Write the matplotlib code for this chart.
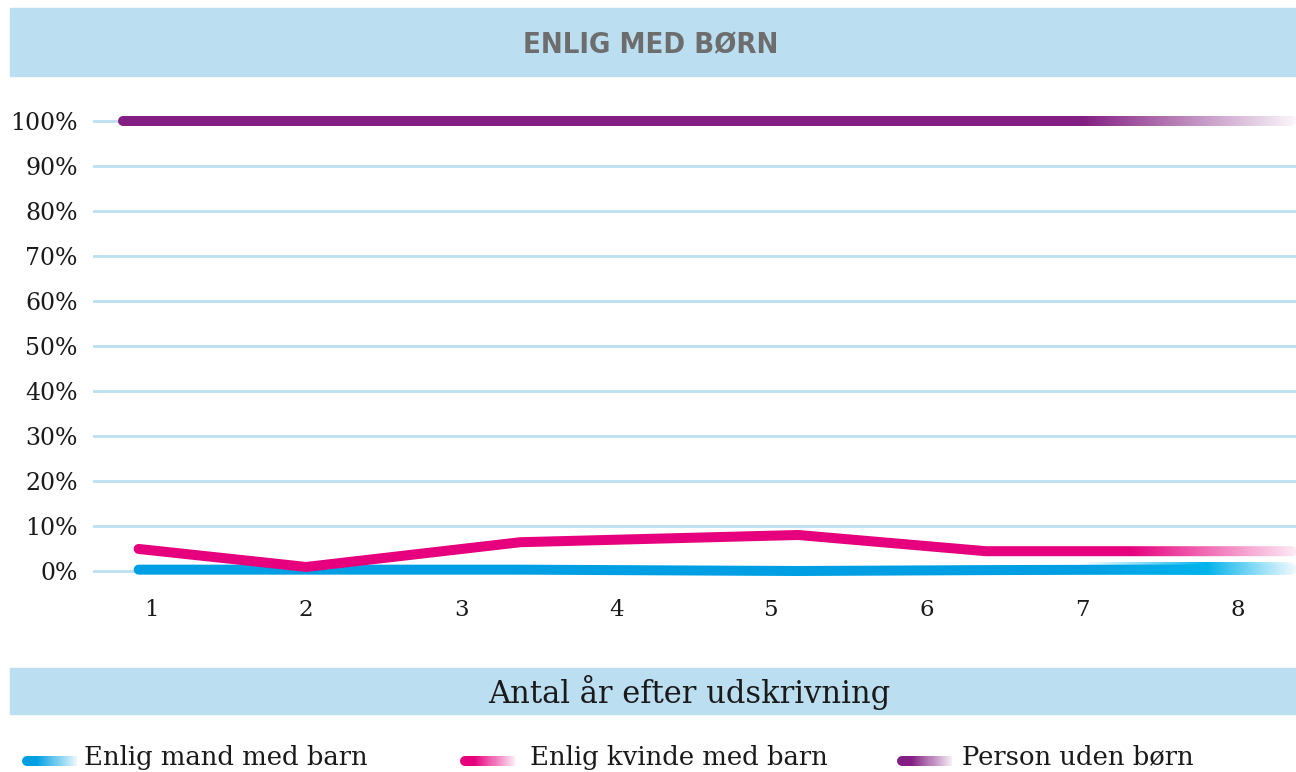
import numpy as np
import matplotlib
matplotlib.use('Agg')
import matplotlib.pyplot as plt
from matplotlib.patches import Rectangle
from matplotlib.collections import LineCollection
from matplotlib.colors import to_rgb

# values (share of people, %)
x_pos = [0.92, 2.0, 3.38, 5.17, 6.38, 8.35]
mand_med_barn = [0.3, 0.3, 0.3, 0.0, 0.2, 0.4]
kvinde_med_barn = [4.9, 0.9, 6.4, 8.0, 4.4, 4.4]
x_pos_uden = [0.82, 2.0, 3.38, 5.17, 6.38, 8.35]
uden_boern = [100, 100, 100, 100, 100, 100]

x_ticks = [1, 2, 3, 4, 5, 6, 7, 8]
y_ticks = [0, 10, 20, 30, 40, 50, 60, 70, 80, 90, 100]
series_labels = ['Enlig mand med barn', 'Enlig kvinde med barn', 'Person uden børn']
series_colors = ['#009fe3', '#e6007e', '#831f82']

title = 'ENLIG MED BØRN'
xlabel = 'Antal år efter udskrivning'

band_color = '#bbdef0'
grid_color = '#bde0f1'
serif = 'DejaVu Serif'

fig = plt.figure(figsize=(12.96, 7.72), dpi=100)
W, H = 1296, 772

# header and x-label bands
fig.patches.append(Rectangle((10 / W, 1 - 76 / H), 1 - 10 / W, 68 / H, transform=fig.transFigure,
                             color=band_color, zorder=0))
fig.patches.append(Rectangle((10 / W, 1 - 714 / H), 1 - 10 / W, 46 / H, transform=fig.transFigure,
                             color=band_color, zorder=0))
fig.text(651 / W, 1 - 45 / H, title, ha='center', va='center', fontsize=21, fontweight='bold',
         fontstretch='condensed', color='#6d6d6d', family='DejaVu Sans')
fig.text(689 / W, 1 - 692 / H, xlabel, ha='center', va='center', fontsize=22,
         color='#1a1a1a', family=serif)

# main axes
xmin, xmax = 0.626, 8.378
ymin, ymax = -5, 105
ax = fig.add_axes([93 / W, (772 - 593.5) / H, (W - 93) / W, 495 / H])
for s in ax.spines.values():
    s.set_visible(False)
for yv in y_ticks:
    ax.axhline(yv, color=grid_color, lw=2, zorder=1)

lw = 7.2
ax.plot(x_pos_uden, uden_boern, color=series_colors[2], lw=lw, solid_capstyle='round',
        solid_joinstyle='round', zorder=3)
ax.plot(x_pos, mand_med_barn, color=series_colors[0], lw=lw, solid_capstyle='round',
        solid_joinstyle='round', zorder=3)
ax.plot(x_pos, kvinde_med_barn, color=series_colors[1], lw=lw, solid_capstyle='round',
        solid_joinstyle='round', zorder=3)


def fade_end(ax, y, stops, half=1.35, n=300):
    # white overlay that makes the end of a line fade out
    xs = np.linspace(stops[0][0], xmax, n)
    pos = [s[0] for s in stops]
    rgba = np.zeros((1, n, 4))
    for k in range(4):
        rgba[0, :, k] = np.interp(xs, pos, [s[1][k] for s in stops])
    ax.imshow(rgba, extent=[xs[0], xs[-1], y - half, y + half], aspect='auto',
              zorder=4, interpolation='bilinear')


cyan = to_rgb('#00b4ec')
fade_end(ax, uden_boern[-1], [(7.0, (1, 1, 1, 0)), (xmax, (1, 1, 1, 0.97))])
fade_end(ax, kvinde_med_barn[-1], [(7.3, (1, 1, 1, 0)), (xmax, (1, 1, 1, 0.93))])
fade_end(ax, mand_med_barn[-1], [(7.0, (*cyan, 0)), (7.8, (*cyan, 1)), (xmax, (1, 1, 1, 0.95))])

ax.set_xlim(xmin, xmax)
ax.set_ylim(ymin, ymax)
ax.set_xticks(x_ticks)
ax.set_xticklabels([str(v) for v in x_ticks], family=serif, fontsize=16.5, color='#1a1a1a')
ax.set_yticks(y_ticks)
ax.set_yticklabels([f'{v}%' for v in y_ticks], family=serif, fontsize=17, color='#1a1a1a')
ax.tick_params(axis='both', length=0)
ax.tick_params(axis='y', pad=11)
ax.tick_params(axis='x', pad=4)

# legend with fading swatches
lg = fig.add_axes([0, 0, 1, 1], zorder=-1)
lg.set_xlim(0, W)
lg.set_ylim(H, 0)
lg.axis('off')
leg_x = [22, 460, 897]
leg_text_x = [84, 530, 962]
for x0, tx, lab, col in zip(leg_x, leg_text_x, series_labels, series_colors):
    c = np.array(to_rgb(col))
    lg.plot([x0 + 5, x0 + 14], [761, 761], color=col, lw=lw, solid_capstyle='round')
    xs = np.linspace(x0 + 14, x0 + 55, 41)
    segs = [[(xs[i], 761), (xs[i + 1], 761)] for i in range(len(xs) - 1)]
    t = np.linspace(0, 0.92, len(segs))
    cols = [c * (1 - ti) + ti for ti in t]
    lg.add_collection(LineCollection(segs, colors=cols, linewidths=lw, capstyle='butt'))
    lg.text(tx, 757, lab, ha='left', va='center', fontsize=18.6, family=serif, color='#1a1a1a')

fig.savefig('out.png', dpi=100)
